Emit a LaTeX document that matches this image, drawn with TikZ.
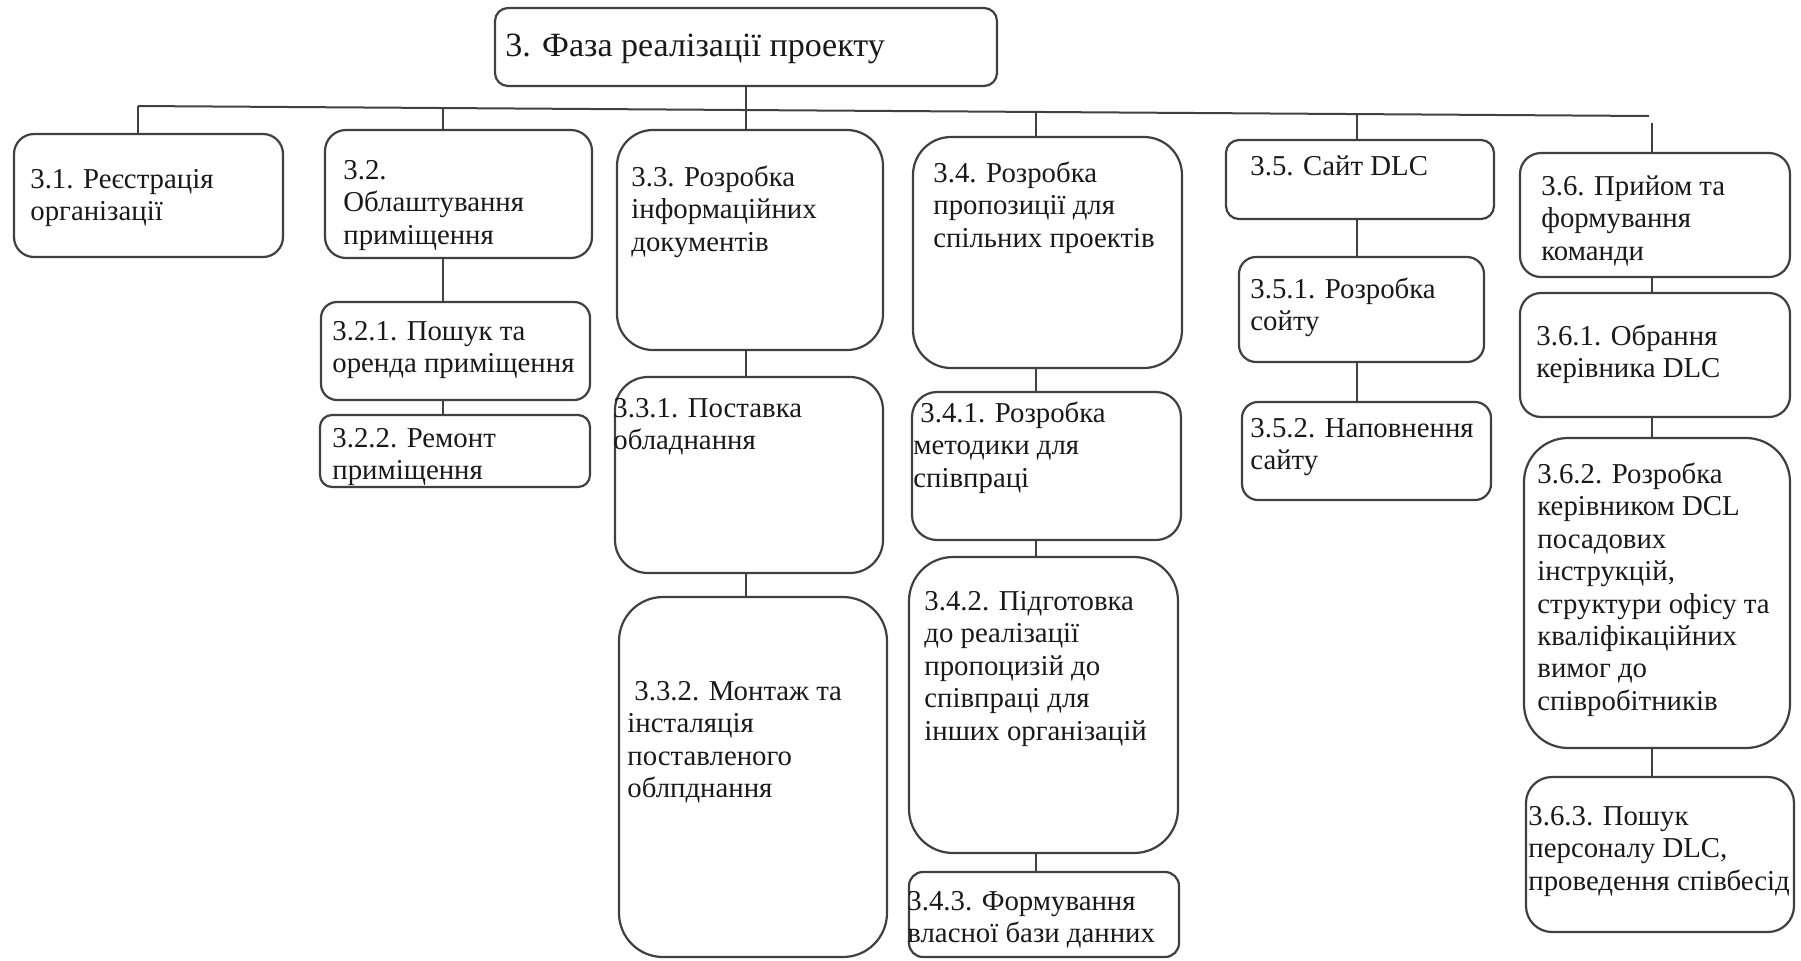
\documentclass[tikz,border=0pt]{standalone}
\usepackage{fontspec}
\setmainfont{Liberation Serif}
\usetikzlibrary{fit}
\definecolor{line-gray}{RGB}{64, 64, 64}
\definecolor{text-black}{RGB}{25, 25, 25}
\newcommand{\firstline}{\rule{0pt}{13pt}}

\begin{document}
\begin{tikzpicture}[x=0.5pt, y=-0.5pt,
    item-box/.style={draw=line-gray, line width=1.1pt, rounded corners=#1, inner sep=0pt},
    item-text/.style={anchor=north west, inner sep=0pt, align=left, text=text-black, font=\fontsize{14.4}{16.2}\selectfont},
    link-line/.style={draw=line-gray, line width=1pt}]
\useasboundingbox (0,0) rectangle (1801,960);
% boxes
\node[item-box=6.5pt, fit={(495,8) (997,86)}] (root) {};
\node[item-box=10pt, fit={(14,134) (283,257)}] (b31) {};
\node[item-box=10.5pt, fit={(325,130) (592,258)}] (b32) {};
\node[item-box=8pt, fit={(321,302) (590,400)}] (b321) {};
\node[item-box=6pt, fit={(320,415) (590,487)}] (b322) {};
\node[item-box=18pt, fit={(617,130) (883,350)}] (b33) {};
\node[item-box=16.5pt, fit={(615,377) (883,573)}] (b331) {};
\node[item-box=22pt, fit={(619,597) (887,957)}] (b332) {};
\node[item-box=19pt, fit={(913,137) (1182,368)}] (b34) {};
\node[item-box=12.5pt, fit={(912,392) (1181,540)}] (b341) {};
\node[item-box=22pt, fit={(909,557) (1178,853)}] (b342) {};
\node[item-box=7pt, fit={(909,872) (1179,957)}] (b343) {};
\node[item-box=6.5pt, fit={(1226,140) (1494,219)}] (b35) {};
\node[item-box=8.5pt, fit={(1239,257) (1484,362)}] (b351) {};
\node[item-box=8pt, fit={(1242,402) (1491,500)}] (b352) {};
\node[item-box=10.5pt, fit={(1520,153) (1790,277)}] (b36) {};
\node[item-box=10.5pt, fit={(1520,293) (1790,417)}] (b361) {};
\node[item-box=22pt, fit={(1524,438) (1790,748)}] (b362) {};
\node[item-box=13pt, fit={(1526,777) (1794,932)}] (b363) {};

% texts
\node[item-text] (t-root) at (505,30) {\fontsize{17}{20}\selectfont\firstline 3. Фаза реалізації проекту};
\node[item-text] (t31) at (30,162) {\firstline 3.1. Реєстрація\\організації};
\node[item-text] (t32) at (343,153) {\firstline 3.2.\\Облаштування\\приміщення};
\node[item-text] (t321) at (332,314) {\firstline 3.2.1. Пошук та\\оренда приміщення};
\node[item-text] (t322) at (332,421) {\firstline 3.2.2. Ремонт\\приміщення};
\node[item-text] (t33) at (631,160) {\firstline 3.3. Розробка\\інформаційних\\документів};
\node[item-text] (t331) at (613,391) {\firstline 3.3.1. Поставка\\обладнання};
\node[item-text] (t332) at (627,674) {\firstline\hspace*{3.5pt}3.3.2. Монтаж та\\інсталяція\\поставленого\\облпднання};
\node[item-text] (t34) at (933,156) {\firstline 3.4. Розробка\\пропозиції для\\спільних проектів};
\node[item-text] (t341) at (913,396) {\firstline\hspace*{3.5pt}3.4.1. Розробка\\методики для\\співпраці};
\node[item-text] (t342) at (924,584) {\firstline 3.4.2. Підготовка\\до реалізації\\пропоцизій до\\співпраці для\\інших організацій};
\node[item-text] (t343) at (907,884) {\firstline 3.4.3. Формування\\власної бази данних};
\node[item-text] (t35) at (1250,149) {\firstline 3.5. Сайт DLC};
\node[item-text] (t351) at (1250,272) {\firstline 3.5.1. Розробка\\сойту};
\node[item-text] (t352) at (1250,411) {\firstline 3.5.2. Наповнення\\сайту};
\node[item-text] (t36) at (1541,169) {\firstline 3.6. Прийом та\\формування\\команди};
\node[item-text] (t361) at (1536,319) {\firstline 3.6.1. Обрання\\керівника DLC};
\node[item-text] (t362) at (1537,457) {\firstline 3.6.2. Розробка\\керівником DCL\\посадових\\інструкцій,\\структури офісу та\\кваліфікаційних\\вимог до\\співробітників};
\node[item-text] (t363) at (1528,799) {\firstline 3.6.3. Пошук\\персоналу DLC,\\проведення співбесід};

% links
\coordinate (bus-l) at (138,106);
\coordinate (bus-r) at (1649,116);
\coordinate (s2) at (443,108);
\coordinate (s3) at (746,110);
\coordinate (s4) at (1036,112);
\coordinate (s5) at (1357,114);
\coordinate (s6) at (1652,123);
\draw[link-line] (bus-l) -- (bus-r);
\draw[link-line] (bus-l) -- (b31.north -| bus-l);
\draw[link-line] (s2) -- (b32.north -| s2);
\draw[link-line] (root.south -| s3) -- (b33.north -| s3);
\draw[link-line] (s4) -- (b34.north -| s4);
\draw[link-line] (s5) -- (b35.north -| s5);
\draw[link-line] (s6) -- (b36.north -| s6);
\draw[link-line] (b32.south -| s2) -- (b321.north -| s2);
\draw[link-line] (b321.south -| s2) -- (b322.north -| s2);
\draw[link-line] (b33.south -| s3) -- (b331.north -| s3);
\draw[link-line] (b331.south -| s3) -- (b332.north -| s3);
\draw[link-line] (b34.south -| s4) -- (b341.north -| s4);
\draw[link-line] (b341.south -| s4) -- (b342.north -| s4);
\draw[link-line] (b342.south -| s4) -- (b343.north -| s4);
\draw[link-line] (b35.south -| s5) -- (b351.north -| s5);
\draw[link-line] (b351.south -| s5) -- (b352.north -| s5);
\draw[link-line] (b36.south -| s6) -- (b361.north -| s6);
\draw[link-line] (b361.south -| s6) -- (b362.north -| s6);
\draw[link-line] (b362.south -| s6) -- (b363.north -| s6);
\end{tikzpicture}
\end{document}
